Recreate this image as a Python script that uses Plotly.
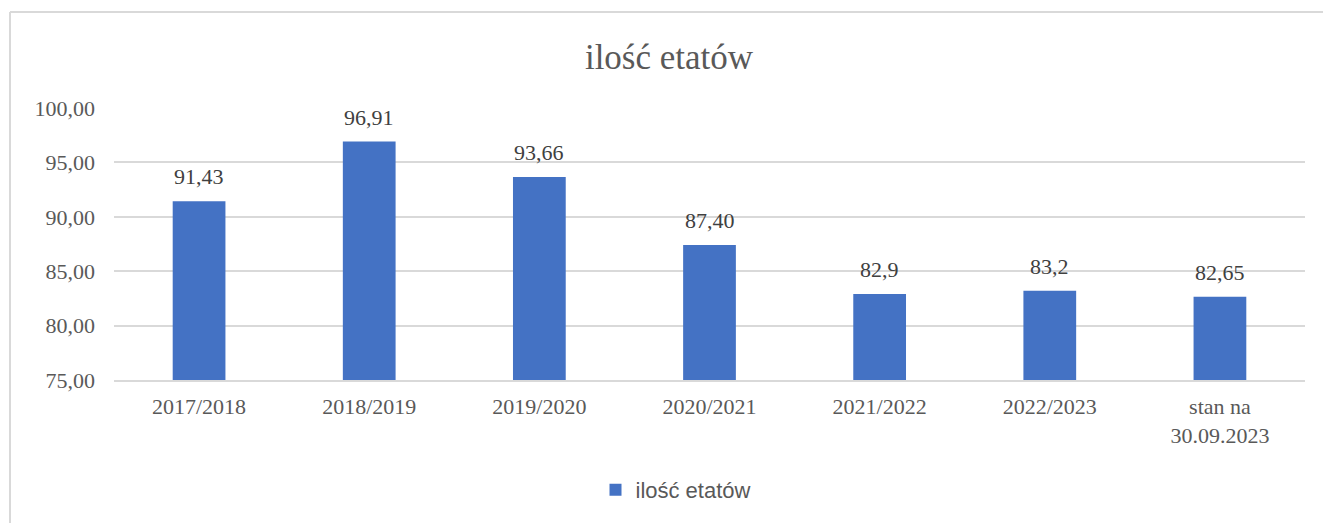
import plotly.graph_objects as go

categories = ["2017/2018", "2018/2019", "2019/2020", "2020/2021", "2021/2022", "2022/2023", "stan na<br>30.09.2023"]
values = [91.43, 96.91, 93.66, 87.40, 82.9, 83.2, 82.65]
value_labels = ["91,43", "96,91", "93,66", "87,40", "82,9", "83,2", "82,65"]
series_name = "ilość etatów"
title_text = "ilość etatów"

W, H = 1323, 523
L, R, T, B = 114, 18, 108, 143
pw, ph = W - L - R, H - T - B

def px_x(p):
    return (p - L) / pw

def px_y(p):
    return (H - B - p) / ph

serif = "Liberation Serif, Times New Roman, serif"
text_col = "#595959"
border = "#d9d9d9"

fig = go.Figure()
fig.add_trace(go.Bar(
    x=categories, y=values, name=series_name,
    marker=dict(color="#4472C4", line=dict(width=0)),
))

for c, v, lab in zip(categories, values, value_labels):
    fig.add_annotation(x=c, y=v, text=lab, showarrow=False, xref="x", yref="y",
                       yanchor="bottom", yshift=10,
                       font=dict(family=serif, size=22, color="#404040"))

fig.update_layout(
    width=W, height=H,
    margin=dict(l=L, r=R, t=T, b=B),
    paper_bgcolor="white", plot_bgcolor="white",
    separators=", ",
    bargap=0.69,
    title=dict(text=title_text, x=669 / W, xanchor="center", y=1 - 57 / H, yanchor="middle",
               font=dict(family=serif, size=35, color=text_col)),
    showlegend=True,
    legend=dict(orientation="h", x=px_x(676), xanchor="center", y=px_y(490), yanchor="middle",
                font=dict(family="Liberation Sans, Arial, sans-serif", size=22, color=text_col)),
    xaxis=dict(showgrid=False, showline=True, linecolor=border, linewidth=2,
               tickfont=dict(family=serif, size=22, color=text_col), ticks="",
               ticklabelstandoff=6),
    yaxis=dict(range=[75, 100], dtick=5, tickformat=".2f", showgrid=True, gridcolor=border,
               gridwidth=2, zeroline=False, showline=False, ticks="",
               tickfont=dict(family=serif, size=22, color=text_col), ticklabelstandoff=18),
    shapes=[
        dict(type="line", xref="paper", yref="paper",
             x0=px_x(10), x1=px_x(1400), y0=px_y(12), y1=px_y(12),
             line=dict(color=border, width=2), layer="below"),
        dict(type="line", xref="paper", yref="paper",
             x0=px_x(10), x1=px_x(10), y0=px_y(12), y1=px_y(600),
             line=dict(color=border, width=2), layer="below"),
    ],
)

fig.write_html("out.html", config={"displayModeBar": False},
               post_script="document.body.style.margin='0';document.body.style.overflow='hidden';")
